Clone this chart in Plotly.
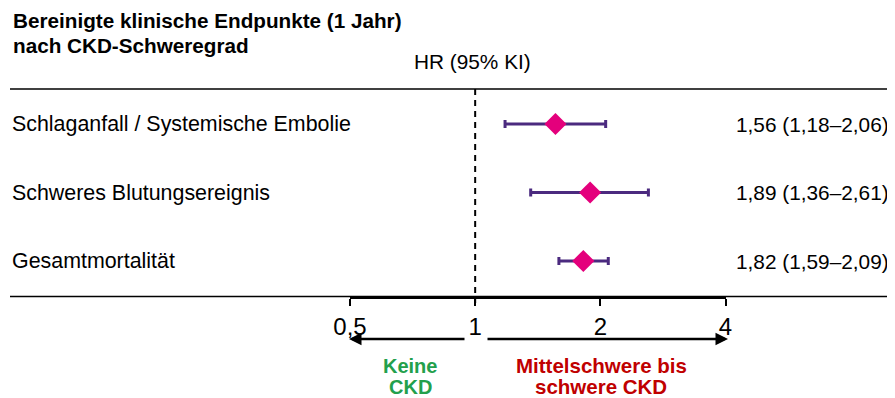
import plotly.graph_objects as go

# ---- data ----
endpoints = ["Schlaganfall / Systemische Embolie", "Schweres Blutungsereignis", "Gesamtmortalität"]
hr = [1.56, 1.89, 1.82]
ci_low = [1.18, 1.36, 1.59]
ci_high = [2.06, 2.61, 2.09]
hr_text = ["1,56 (1,18–2,06)", "1,89 (1,36–2,61)", "1,82 (1,59–2,09)"]
tick_vals = [0.5, 1, 2, 4]
tick_text = ["0,5", "1", "2", "4"]
title_lines = ["Bereinigte klinische Endpunkte (1 Jahr)", "nach CKD-Schweregrad"]
column_header = "HR (95% KI)"
left_label_lines = ["Keine", "CKD"]
right_label_lines = ["Mittelschwere bis", "schwere CKD"]

# page body has an 8px margin, so the figure is drawn 8px in from the window corner
OFF = 8
W, H = 887, 390
FONT = "Liberation Sans, Arial, sans-serif"
rows = list(range(len(endpoints)))

# helpers: convert window pixel positions to paper coordinates
def px(x):
    return (x - OFF) / W

def py(y):
    return 1 - (y - OFF) / H

axis_y_px = 296
row0_px, row_step = 124, 68.5
y_bottom = (axis_y_px - row0_px) / row_step
y_top = (OFF - row0_px) / row_step

fig = go.Figure()

fig.add_trace(go.Scatter(
    x=hr, y=rows, mode="markers",
    marker=dict(symbol="diamond", size=17, color="#E4007C", line=dict(width=0)),
    error_x=dict(type="data", symmetric=False,
                 array=[h - m for h, m in zip(ci_high, hr)],
                 arrayminus=[m - l for m, l in zip(hr, ci_low)],
                 color="#4B2A7F", thickness=3, width=4),
    showlegend=False, hoverinfo="skip",
))

fig.update_layout(
    width=W, height=H, autosize=False,
    margin=dict(l=0, r=0, t=0, b=0, autoexpand=False),
    paper_bgcolor="white", plot_bgcolor="white",
    font=dict(family=FONT, color="black", size=20),
    xaxis=dict(type="log", range=[-0.30103, 0.60206],
               domain=[px(350), px(725.5)], automargin=False,
               tickvals=tick_vals, ticktext=tick_text,
               tickfont=dict(size=24, family=FONT, color="black"),
               showline=True, linecolor="black", linewidth=3,
               ticks="outside", ticklen=7, tickwidth=2, tickcolor="black",
               showgrid=False, zeroline=False, fixedrange=True),
    yaxis=dict(range=[y_bottom, y_top], domain=[py(axis_y_px), 1],
               visible=False, fixedrange=True, automargin=False),
)

shapes = [
    # top rule
    dict(type="line", xref="paper", yref="paper", x0=px(10), x1=1, y0=py(89), y1=py(89),
         line=dict(color="black", width=1.5)),
    # bottom rule
    dict(type="line", xref="paper", yref="paper", x0=px(10), x1=1, y0=py(296.5), y1=py(296.5),
         line=dict(color="black", width=1.5)),
    # reference line at HR = 1
    dict(type="line", xref="x", yref="paper", x0=1, x1=1, y0=py(89), y1=py(303),
         line=dict(color="black", width=2, dash="6px,5px")),
]
fig.update_layout(shapes=shapes)

ann = []
for line, yc in zip(title_lines, [21, 45]):
    ann.append(dict(xref="paper", yref="paper", x=px(11), y=py(yc), xanchor="left", yanchor="middle",
                    text="<b>" + line + "</b>", showarrow=False,
                    font=dict(size=20.7, family=FONT, color="black")))
ann.append(dict(xref="paper", yref="paper", x=px(472), y=py(62), xanchor="center", yanchor="middle",
                text=column_header, showarrow=False, font=dict(size=20.8, family=FONT)))
for r, name, t in zip(rows, endpoints, hr_text):
    ann.append(dict(xref="paper", yref="y", x=px(10), y=r, xanchor="left", yanchor="middle",
                    text=name, showarrow=False, font=dict(size=21.4, family=FONT)))
    ann.append(dict(xref="paper", yref="y", x=px(891), y=r, xanchor="right", yanchor="middle",
                    text=t, showarrow=False, font=dict(size=20.8, family=FONT)))
# arrows (tail offsets in pixels)
ann.append(dict(xref="paper", yref="paper", x=px(349), y=py(339), ax=466 - 349, ay=0,
                axref="pixel", ayref="pixel", text="", showarrow=True,
                arrowhead=2, arrowsize=1, arrowwidth=2.5, arrowcolor="black"))
ann.append(dict(xref="paper", yref="paper", x=px(728), y=py(339), ax=486 - 728, ay=0,
                axref="pixel", ayref="pixel", text="", showarrow=True,
                arrowhead=2, arrowsize=1, arrowwidth=2.5, arrowcolor="black"))
for lines, xc, color, size in [(left_label_lines, 410, "#23A04C", 20),
                               (right_label_lines, 601, "#C00000", 20.5)]:
    for line, yc in zip(lines, [365.5, 386.5]):
        ann.append(dict(xref="paper", yref="paper", x=px(xc), y=py(yc), xanchor="center",
                        yanchor="middle", text="<b>" + line + "</b>", showarrow=False,
                        font=dict(size=size, family=FONT, color=color)))
fig.update_layout(annotations=ann)

fig.write_html("out.html")
